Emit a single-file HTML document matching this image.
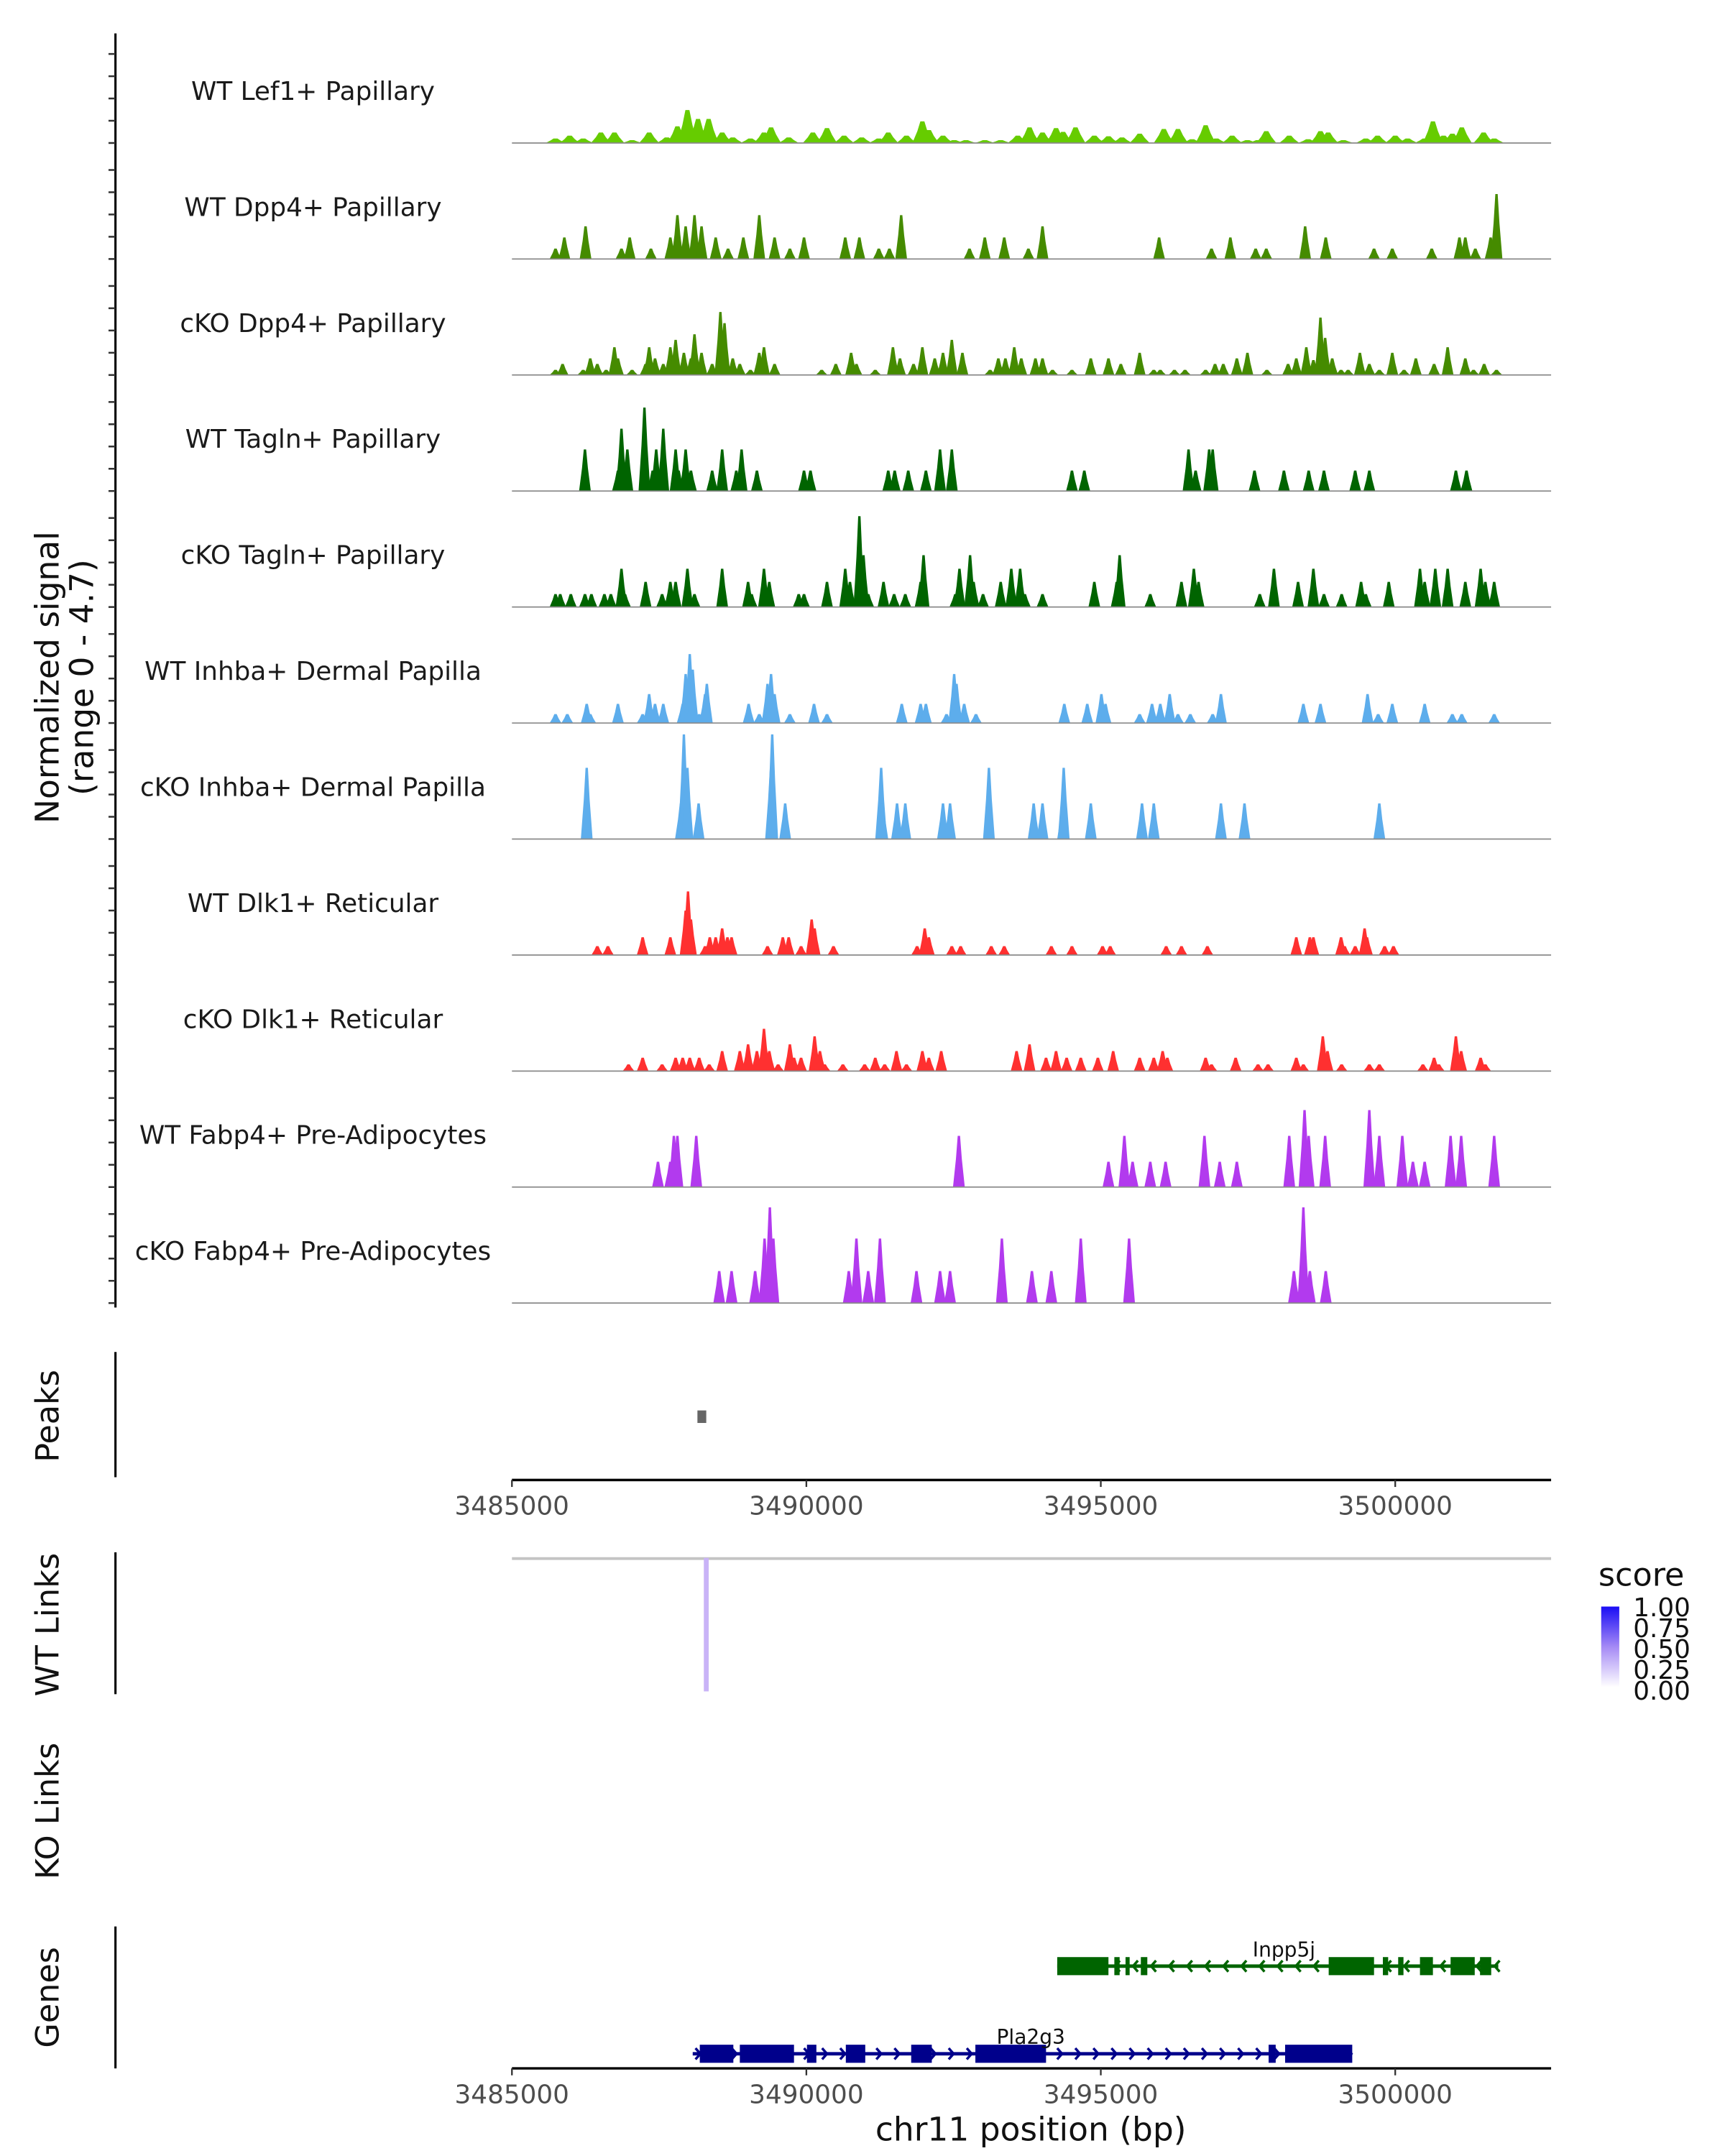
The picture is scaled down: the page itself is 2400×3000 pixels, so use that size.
<!DOCTYPE html>
<html><head><meta charset="utf-8"><style>
html,body{margin:0;padding:0;background:#fff;}
svg{display:block;font-family:"DejaVu Sans","Liberation Sans",sans-serif;}
</style></head><body>
<svg id="chart" width="2400" height="3000" viewBox="0 0 1240 1550" preserveAspectRatio="none" xmlns="http://www.w3.org/2000/svg">
<g id="tracks"></g>
<line x1="83" y1="24" x2="83" y2="940" stroke="#000" stroke-width="1.6"/>
<g id="yticks"></g>
<text transform="translate(42,487) rotate(-90)" text-anchor="middle" font-size="23.5" fill="#111">Normalized signal</text>
<text transform="translate(67,487) rotate(-90)" text-anchor="middle" font-size="23.5" fill="#111">(range 0 - 4.7)</text>

<line x1="83" y1="972" x2="83" y2="1062" stroke="#000" stroke-width="1.6"/>
<text transform="translate(42,1018) rotate(-90)" text-anchor="middle" font-size="23" fill="#111">Peaks</text>
<rect id="peakmark" y="1014" height="9" fill="#666"/>
<g id="xaxis1"></g>

<line x1="83" y1="1116" x2="83" y2="1218" stroke="#000" stroke-width="1.6"/>
<text transform="translate(42,1168) rotate(-90)" text-anchor="middle" font-size="23" fill="#111">WT Links</text>
<line x1="368" y1="1120.5" x2="1115" y2="1120.5" stroke="#c4c4c4" stroke-width="2"/>
<line id="linkarc" y1="1120" y2="1216" stroke="#c9b3f7" stroke-width="3.5"/>
<text transform="translate(42,1302) rotate(-90)" text-anchor="middle" font-size="23" fill="#111">KO Links</text>

<g>
<defs><linearGradient id="sg" x1="0" y1="0" x2="0" y2="1"><stop offset="0" stop-color="#1a0df5"/><stop offset="0.5" stop-color="#a58af5"/><stop offset="1" stop-color="#ffffff"/></linearGradient></defs>
<text x="1149" y="1140" font-size="23" fill="#111">score</text>
<rect x="1151" y="1155" width="13" height="58" fill="url(#sg)"/>
<text x="1174" y="1162" font-size="18.5" fill="#111">1.00</text>
<text x="1174" y="1177" font-size="18.5" fill="#111">0.75</text>
<text x="1174" y="1192" font-size="18.5" fill="#111">0.50</text>
<text x="1174" y="1207" font-size="18.5" fill="#111">0.25</text>
<text x="1174" y="1222" font-size="18.5" fill="#111">0.00</text>
</g>

<line x1="83" y1="1385" x2="83" y2="1487" stroke="#000" stroke-width="1.6"/>
<text transform="translate(42,1436) rotate(-90)" text-anchor="middle" font-size="23" fill="#111">Genes</text>
<g id="genes"></g>
<g id="xaxis2"></g>
<text x="741" y="1539" text-anchor="middle" font-size="23.5" fill="#111">chr11 position (bp)</text>
</svg>
<script>
// positions in kb offset from 3485000; heights in normalized signal units
const trackNames=["WT Lef1+ Papillary","WT Dpp4+ Papillary","cKO Dpp4+ Papillary","WT Tagln+ Papillary","cKO Tagln+ Papillary","WT Inhba+ Dermal Papilla","cKO Inhba+ Dermal Papilla","WT Dlk1+ Reticular","cKO Dlk1+ Reticular","WT Fabp4+ Pre-Adipocytes","cKO Fabp4+ Pre-Adipocytes"];
const trackColors=["#66cc00","#458b00","#458b00","#006400","#006400","#5dadec","#5dadec","#ff3030","#ff3030","#b23aee","#b23aee"];
const t1Pos=[0.74,0.98,1.21,1.51,1.74,2.04,2.33,2.63,2.81,2.98,3.16,3.34,3.57,3.75,4.05,4.28,4.40,4.70,5.11,5.35,5.64,5.94,6.23,6.39,6.70,6.97,7.08,7.32,7.51,7.71,8.03,8.30,8.59,8.79,9.01,9.24,9.36,9.57,9.89,10.13,10.36,10.66,11.07,11.31,11.55,11.78,11.96,12.23,12.49,12.67,12.81,13.20,13.52,13.73,13.86,14.12,14.50,14.70,15.00,15.21,15.50,15.64,15.82,15.97,16.13,16.50,16.68];
const t1H=[0.2,0.33,0.2,0.47,0.47,0.13,0.47,0.25,0.75,1.48,1.08,1.08,0.47,0.25,0.2,0.47,0.7,0.25,0.47,0.67,0.33,0.25,0.2,0.47,0.33,0.97,0.58,0.33,0.13,0.13,0.13,0.13,0.33,0.7,0.47,0.67,0.5,0.7,0.33,0.3,0.25,0.42,0.63,0.63,0.17,0.8,0.2,0.33,0.13,0.13,0.53,0.33,0.17,0.53,0.47,0.13,0.2,0.33,0.33,0.2,0.2,0.97,0.33,0.42,0.7,0.47,0.2];
const t2Pos=[0.74,0.89,1.25,1.86,2.00,2.36,2.69,2.81,2.95,3.10,3.22,3.46,3.67,3.93,4.20,4.46,4.72,4.96,5.66,5.90,6.23,6.41,6.61,7.77,8.03,8.36,8.77,9.01,10.99,11.88,12.20,12.63,12.81,13.47,13.82,14.64,14.95,15.62,16.09,16.19,16.36,16.62,16.72];
const t2H=[0.47,0.97,1.47,0.47,0.97,0.47,0.97,1.97,1.47,1.97,1.47,0.97,0.47,0.97,1.97,0.97,0.47,0.97,0.97,0.97,0.47,0.47,1.97,0.47,0.97,0.97,0.47,1.47,0.97,0.47,0.97,0.47,0.47,1.47,0.97,0.47,0.47,0.47,0.97,0.97,0.47,0.97,2.92];
const t3Pos=[0.74,0.86,1.21,1.33,1.45,1.60,1.74,1.80,2.04,2.27,2.33,2.43,2.57,2.69,2.78,2.92,3.04,3.10,3.22,3.40,3.54,3.61,3.75,3.87,4.05,4.20,4.28,4.46,5.26,5.50,5.76,5.85,6.17,6.47,6.59,6.82,6.97,7.18,7.32,7.47,7.65,8.12,8.26,8.38,8.53,8.65,8.89,9.01,9.18,9.51,9.83,10.13,10.34,10.66,10.90,11.01,11.25,11.43,11.78,11.94,12.08,12.31,12.49,12.82,13.18,13.32,13.49,13.61,13.73,13.81,13.93,14.08,14.20,14.40,14.56,14.73,14.95,15.15,15.35,15.66,15.89,16.19,16.33,16.51,16.72];
const t3H=[0.23,0.5,0.23,0.75,0.5,0.23,1.25,0.75,0.23,0.5,1.25,0.75,0.5,1.25,1.58,1.0,0.75,1.83,1.0,0.5,2.83,2.33,0.75,0.5,0.23,1.0,1.25,0.5,0.23,0.5,1.0,0.5,0.23,1.25,0.75,0.5,1.25,0.75,1.0,1.58,1.0,0.23,0.75,0.75,1.25,0.75,0.75,0.75,0.23,0.23,0.75,0.75,0.5,1.0,0.23,0.23,0.23,0.23,0.23,0.5,0.5,0.75,1.0,0.23,0.5,0.75,1.25,0.67,2.58,1.67,0.75,0.23,0.23,1.0,0.5,0.23,1.0,0.23,0.75,0.5,1.25,0.75,0.23,0.5,0.23];
const t4Pos=[1.24,1.80,1.86,1.96,2.25,2.39,2.45,2.57,2.78,2.83,2.95,3.04,3.40,3.57,3.81,3.90,4.16,4.96,5.07,6.39,6.50,6.73,7.03,7.27,7.47,9.51,9.72,11.49,11.61,11.84,11.90,12.61,13.11,13.53,13.79,14.32,14.56,16.03,16.21];
const t4H=[1.87,0.92,2.8,1.87,3.75,0.92,1.87,2.8,1.87,0.92,1.87,0.92,0.92,1.87,0.92,1.87,0.92,0.92,0.92,0.92,0.92,0.92,0.92,1.87,1.87,0.92,0.92,1.87,0.92,1.87,1.87,0.92,0.92,0.92,0.92,0.92,0.92,0.92,0.92];
const t5Pos=[0.74,0.82,1.00,1.24,1.35,1.57,1.68,1.86,1.92,2.27,2.55,2.69,2.78,2.98,3.10,3.57,4.01,4.07,4.28,4.37,4.87,4.96,5.35,5.66,5.74,5.90,5.97,6.05,6.31,6.49,6.68,6.94,6.99,7.53,7.60,7.78,7.84,8.00,8.30,8.48,8.63,8.71,9.01,9.89,10.27,10.32,10.84,11.37,11.58,11.66,12.70,12.94,13.35,13.61,13.79,14.09,14.42,14.50,14.89,15.42,15.50,15.68,15.89,16.19,16.45,16.53,16.68];
const t5H=[0.58,0.58,0.58,0.58,0.58,0.58,0.58,1.72,0.58,1.13,0.58,1.13,1.13,1.72,0.58,1.72,1.13,0.58,1.72,1.13,0.58,0.58,1.13,1.72,1.13,4.08,2.33,0.58,1.13,0.58,0.58,1.13,2.33,0.58,1.72,2.33,1.13,0.58,1.13,1.72,1.72,0.58,0.58,1.13,1.13,2.33,0.58,1.13,1.72,1.13,0.58,1.72,1.13,1.72,0.58,0.58,1.13,0.58,1.13,1.72,1.13,1.72,1.72,1.13,1.72,1.13,1.13];
const t6Pos=[0.74,0.94,1.27,1.33,1.80,2.22,2.33,2.43,2.57,2.90,2.95,3.02,3.07,3.18,3.28,3.31,4.02,4.20,4.34,4.40,4.46,4.72,5.13,5.35,6.62,6.94,7.03,7.38,7.51,7.55,7.68,7.88,9.38,9.77,10.01,10.08,10.66,10.87,11.01,11.17,11.31,11.52,11.90,12.04,13.44,13.73,14.53,14.71,14.95,15.50,15.97,16.13,16.68];
const t6H=[0.4,0.4,0.86,0.4,0.86,0.4,1.3,0.86,0.86,0.86,2.2,3.1,2.4,0.4,1.3,1.76,0.86,0.4,1.76,2.2,1.3,0.4,0.86,0.4,0.86,0.86,0.86,0.4,2.2,1.76,0.86,0.4,0.86,0.86,1.3,0.86,0.4,0.86,0.86,1.3,0.4,0.4,0.4,1.3,0.86,0.86,1.3,0.4,0.86,0.86,0.4,0.4,0.4];
const t7Pos=[1.27,2.87,2.92,2.98,3.17,4.40,4.42,4.64,6.27,6.29,6.54,6.68,7.32,7.44,8.10,8.86,9.01,9.36,9.37,9.83,10.70,10.90,12.04,12.44,14.73];
const t7H=[3.2,1.6,4.7,3.2,1.6,3.2,4.7,1.6,3.2,1.6,1.6,1.6,1.6,1.6,3.2,1.6,1.6,1.6,3.2,1.6,1.6,1.6,1.6,1.6,1.6];
const t8Pos=[1.45,1.63,2.22,2.69,2.95,2.99,3.04,3.28,3.36,3.46,3.57,3.66,3.73,4.34,4.60,4.70,4.91,5.09,5.14,5.46,6.88,7.01,7.08,7.47,7.62,8.14,8.36,9.16,9.51,10.03,10.16,11.11,11.37,11.81,13.32,13.55,13.61,14.08,14.14,14.32,14.48,14.52,14.82,14.97];
const t8H=[0.4,0.4,0.8,0.8,2.0,2.86,1.6,0.4,0.8,0.8,1.2,0.8,0.8,0.4,0.8,0.8,0.4,1.6,1.2,0.4,0.4,1.2,0.8,0.4,0.4,0.4,0.4,0.4,0.4,0.4,0.4,0.4,0.4,0.4,0.8,0.8,0.8,0.8,0.4,0.4,1.2,0.8,0.4,0.4];
const t9Pos=[1.98,2.22,2.55,2.78,2.90,3.02,3.18,3.35,3.57,3.87,4.01,4.16,4.28,4.37,4.52,4.72,4.79,4.91,5.14,5.23,5.31,5.62,5.99,6.17,6.33,6.53,6.70,6.97,7.08,7.29,8.57,8.79,9.07,9.24,9.42,9.66,9.95,10.21,10.66,10.90,11.05,11.13,11.78,11.88,12.29,12.67,12.84,13.32,13.44,13.77,13.85,14.09,14.56,14.73,15.47,15.66,15.74,16.03,16.12,16.45,16.53];
const t9H=[0.3,0.6,0.3,0.6,0.6,0.6,0.6,0.3,0.9,0.9,1.2,0.9,1.9,0.9,0.3,1.2,0.6,0.6,1.56,0.9,0.3,0.3,0.3,0.6,0.3,0.9,0.3,0.9,0.6,0.9,0.9,1.2,0.6,0.9,0.6,0.6,0.6,0.9,0.6,0.6,0.9,0.6,0.6,0.3,0.6,0.3,0.3,0.6,0.3,1.56,0.9,0.3,0.3,0.3,0.3,0.6,0.3,1.56,0.9,0.6,0.3];
const t10Pos=[2.48,2.69,2.75,2.81,3.13,7.59,10.13,10.40,10.54,10.84,11.10,11.76,12.02,12.31,13.20,13.46,13.53,13.81,14.56,14.73,15.12,15.30,15.50,15.94,16.12,16.68];
const t10H=[1.14,1.14,2.3,2.3,2.3,2.3,1.14,2.3,1.14,1.14,1.14,2.3,1.14,1.14,2.3,3.46,2.3,2.3,3.46,2.3,2.3,1.14,1.14,2.3,2.3,2.3];
const t11Pos=[3.52,3.73,4.13,4.29,4.38,4.44,5.72,5.85,6.05,6.25,6.87,7.27,7.44,8.32,8.83,9.16,9.66,10.48,13.28,13.44,13.55,13.82];
const t11H=[1.44,1.44,1.44,2.9,4.3,2.9,1.44,2.9,1.44,2.9,1.44,1.44,1.44,2.9,1.44,1.44,2.9,2.9,1.44,4.3,1.44,1.44];
const trackPos=[t1Pos,t2Pos,t3Pos,t4Pos,t5Pos,t6Pos,t7Pos,t8Pos,t9Pos,t10Pos,t11Pos];
const trackH=[t1H,t2H,t3H,t4H,t5H,t6H,t7H,t8H,t9H,t10H,t11H];
const xTicks=[3485000,3490000,3495000,3500000];
const peakRegion=[3.15,3.30];
const linkPos=[3.30];
const inpp5jSpan=[9.26,16.75];
const inpp5jExons=[[9.26,10.13],[10.23,10.32],[10.42,10.49],[10.68,10.79],[13.87,14.64],[14.79,14.88],[15.05,15.14],[15.42,15.64],[15.94,16.35],[16.44,16.63]];
const pla2g3Span=[3.07,14.27];
const pla2g3Exons=[[3.19,3.76],[3.87,4.79],[5.01,5.17],[5.67,6.00],[6.78,7.13],[7.87,9.07],[12.85,12.97],[13.13,14.27]];

const NS="http://www.w3.org/2000/svg";
const X0=368, PXKB=42.33, UNIT=16;
function xs(kb){return X0+kb*PXKB;}
function xbp(bp){return X0+(bp-3485000)/1000*PXKB;}
function baseY(i){return 102.8+83.4*i;}
function mk(tag,attrs,parent){const e=document.createElementNS(NS,tag);for(const k in attrs)e.setAttribute(k,attrs[k]);parent.appendChild(e);return e;}

const tg=document.getElementById('tracks');
const ytk=document.getElementById('yticks');
trackNames.forEach((name,i)=>{
  const g=mk('g',{},tg);
  
  
  const by=baseY(i);
  const w=(i===0)?0.34:0.2;
  const pos=trackPos[i], hs=trackH[i];
  for(let j=0;j<pos.length;j++){
    const c=pos[j], h=hs[j];
    const pts=[[xs(c-w/2),by],[xs(c-w/4),by-h*UNIT*0.55],[xs(c-w/10),by-h*UNIT],[xs(c+w/10),by-h*UNIT],[xs(c+w/4),by-h*UNIT*0.55],[xs(c+w/2),by]].map(p=>p[0].toFixed(2)+','+p[1].toFixed(2)).join(' ');
    const p=mk('polygon',{points:pts,fill:trackColors[i]},g);
    
    
  }
  const bl=mk('line',{x1:368,x2:1115,y1:by,y2:by,stroke:'#8a8a8a','stroke-width':0.9},g);
  
  
  const t=mk('text',{x:225,y:by-31,'text-anchor':'middle','font-size':'18.5',fill:'#1a1a1a'},g);
  t.textContent=name;
  
  
  for(let k=0;k<5;k++){
    const tk=mk('line',{x1:78,x2:83,y1:by-k*UNIT,y2:by-k*UNIT,stroke:'#333','stroke-width':1.3},ytk);
    
    
  }
});

const pm=document.getElementById('peakmark');
pm.setAttribute('x',xs(peakRegion[0]));
pm.setAttribute('width',Math.max(3,xs(peakRegion[1])-xs(peakRegion[0])));
const la=document.getElementById('linkarc');
la.setAttribute('x1',xs(linkPos[0])); la.setAttribute('x2',xs(linkPos[0]));

function xAxis(gid,y){
  const g=document.getElementById(gid);
  const l=mk('line',{x1:368,x2:1115,y1:y,y2:y,stroke:'#000','stroke-width':1.8},g);
  
  
  xTicks.forEach(v=>{
    const x=xbp(v);
    const tk=mk('line',{x1:x,x2:x,y1:y,y2:y+5,stroke:'#333','stroke-width':1.2},g);
    
    
    const t=mk('text',{x:x,y:y+25,'text-anchor':'middle','font-size':'18.5',fill:'#4d4d4d'},g);
    t.textContent=String(v);
    
    
  });
}
xAxis('xaxis1',1064);
xAxis('xaxis2',1487);

const gg=document.getElementById('genes');
function drawGene(name,span,exons,y,color,dir,labelX){
  const g=mk('g',{},gg);
  
  
  const ln=mk('line',{x1:xs(span[0]),x2:xs(span[1]),y1:y,y2:y,stroke:color,'stroke-width':2.5},g);
  
  
  for(let x=xs(span[0])+4;x<xs(span[1]);x+=13){
    const d=dir>0?`M${x-2},${y-4} L${x+1.5},${y} L${x-2},${y+4}`:`M${x+2},${y-4} L${x-1.5},${y} L${x+2},${y+4}`;
    const c=mk('path',{d:d,stroke:color,'stroke-width':1.8,fill:'none'},g);
    
    
  }
  exons.forEach(e=>{
    const r=mk('rect',{x:xs(e[0]),y:y-6.5,width:Math.max(2,xs(e[1])-xs(e[0])),height:13,fill:color},g);
    
    
  });
  const t=mk('text',{x:labelX,y:y-7,'text-anchor':'middle','font-size':'14.5',fill:'#111'},g);
  t.textContent=name;
  
  
}
drawGene('Inpp5j',inpp5jSpan,inpp5jExons,1413.5,'#006400',-1,923);
drawGene('Pla2g3',pla2g3Span,pla2g3Exons,1476.5,'#00008b',1,741);
</script>
</body></html>
